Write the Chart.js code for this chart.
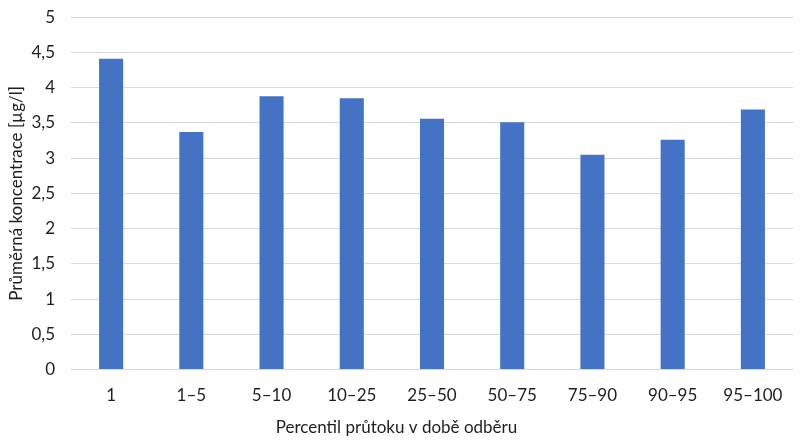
<!DOCTYPE html>
<html>
<head>
    <meta charset="utf-8" />
    <title>Průměrná koncentrace podle percentilu průtoku</title>
    <script src="https://cdn.jsdelivr.net/npm/chart.js"></script>
    <style>
        body {
            margin: 0;
            padding: 0;
            background: white;
        }

        #wrap {
            width: 800px;
            height: 443px;
        }
    </style>
</head>
<body>
    <div id="wrap">
        <canvas id="graf" width="800" height="443"></canvas>
    </div>

    <script>
        const kategorie = ["1", "1–5", "5–10", "10–25", "25–50", "50–75", "75–90", "90–95", "95–100"];
        const koncentrace = [4.41, 3.37, 3.88, 3.85, 3.56, 3.51, 3.05, 3.26, 3.69];
        const osaY = [0, 0.5, 1, 1.5, 2, 2.5, 3, 3.5, 4, 4.5, 5];

        const pismo = { family: "Lato, 'Open Sans', sans-serif", size: 17 };
        const barvaTextu = "#1e1e1e";

        const ctx = document.getElementById("graf").getContext("2d");

        new Chart(ctx, {
            type: 'bar',
            data: {
                labels: kategorie,
                datasets: [{
                    label: 'Průměrná koncentrace',
                    data: koncentrace,
                    backgroundColor: '#4472C4',
                    categoryPercentage: 1,
                    barPercentage: 0.3
                }]
            },
            options: {
                responsive: false,
                animation: false,
                layout: {
                    padding: { top: 0, right: 7, left: 0, bottom: 0 }
                },
                plugins: {
                    legend: { display: false },
                    tooltip: { enabled: false },
                    // popisek osy x je vycentrovaný na celé plátno, ne na plochu grafu
                    title: {
                        display: true,
                        position: 'bottom',
                        text: 'Percentil průtoku v době odběru',
                        color: barvaTextu,
                        font: { ...pismo, weight: 'normal' },
                        padding: { top: 6, bottom: 5 }
                    }
                },
                scales: {
                    x: {
                        grid: { display: false, drawTicks: false },
                        border: { display: false },
                        ticks: {
                            color: barvaTextu,
                            font: pismo,
                            padding: 16,
                            maxRotation: 0,
                            autoSkip: false
                        },
                        afterFit: (scale) => { scale.height = 42; }
                    },
                    y: {
                        min: 0,
                        max: 5,
                        afterBuildTicks: (scale) => {
                            scale.ticks = osaY.map(v => ({ value: v }));
                        },
                        // neviditelné značky jen odsunou popisky od mřížky
                        grid: { color: '#d9d9d9', lineWidth: 1, drawTicks: true, tickLength: 9, tickColor: 'rgba(0,0,0,0)' },
                        border: { display: false },
                        ticks: {
                            color: barvaTextu,
                            font: pismo,
                            padding: 7,
                            callback: (v) => String(v).replace('.', ',')
                        },
                        title: {
                            display: true,
                            text: 'Průměrná koncentrace [µg/l]',
                            color: barvaTextu,
                            font: pismo,
                            padding: { top: 6, bottom: 0 }
                        },
                        afterFit: (scale) => { scale.width = 71; }
                    }
                }
            }
        });
    </script>
</body>
</html>
